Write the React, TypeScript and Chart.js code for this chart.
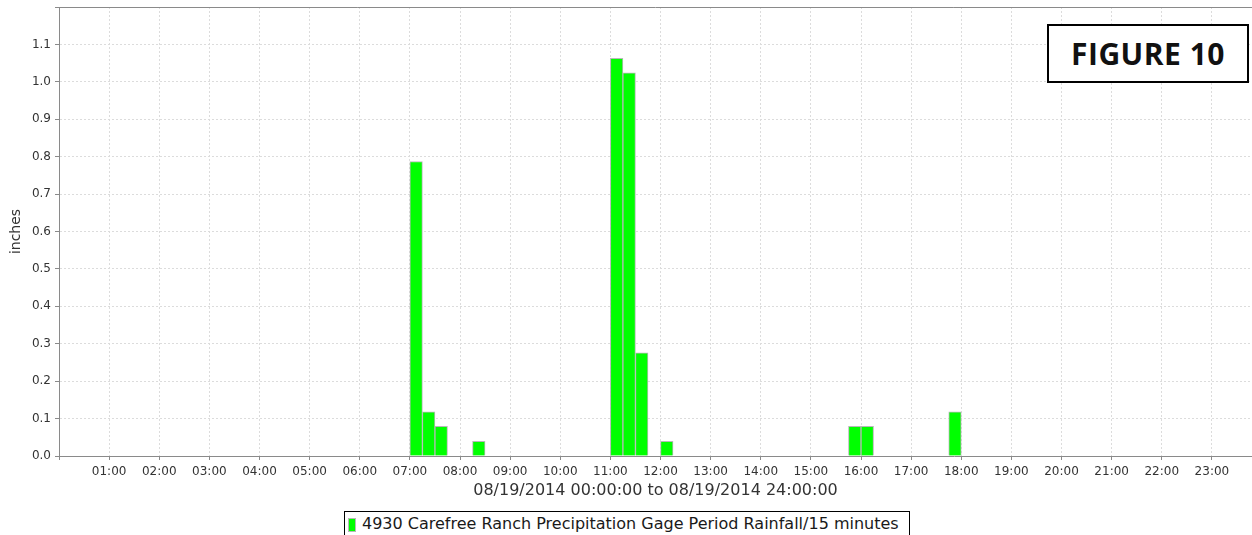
import React, { useEffect, useRef } from 'react';
import { Chart, registerables } from 'chart.js';

Chart.register(...registerables);

// ---- data ----
const periodStarts = ['07:00', '07:15', '07:30', '08:15', '11:00', '11:15', '11:30', '12:00', '15:45', '16:00', '17:45'];
const rainfallInches = [0.787, 0.118, 0.079, 0.039, 1.063, 1.024, 0.276, 0.039, 0.079, 0.079, 0.118];
const periodMinutes = 15;
const seriesLabel = '4930 Carefree Ranch Precipitation Gage Period Rainfall/15 minutes';
const xAxisTitle = '08/19/2014 00:00:00 to 08/19/2014 24:00:00';
const yAxisTitle = 'inches';
const figureLabel = 'FIGURE 10';
const xMinMinutes = 0;
const xMaxMinutes = 1428;
const yMax = 1.2;

const toMinutes = (t: string) => {
  const [h, m] = t.split(':').map(Number);
  return h * 60 + m;
};

const FONT = '"DejaVu Sans", sans-serif';

const plotFrame = {
  id: 'plotFrame',
  afterDraw(chart: any) {
    const { ctx, chartArea } = chart;
    ctx.save();
    ctx.strokeStyle = '#8a8a8a';
    ctx.lineWidth = 1;
    ctx.beginPath();
    ctx.moveTo(chartArea.left, chartArea.top + 0.5);
    ctx.lineTo(chartArea.right, chartArea.top + 0.5);
    ctx.stroke();
    ctx.restore();
  },
};

export default function App() {
  const canvasRef = useRef<HTMLCanvasElement>(null);

  useEffect(() => {
    if (!canvasRef.current) return;
    const points = periodStarts.map((t, i) => ({
      x: toMinutes(t) + periodMinutes / 2,
      y: rainfallInches[i],
    }));
    const chart = new Chart(canvasRef.current, {
      type: 'bar',
      data: {
        datasets: [
          {
            label: seriesLabel,
            data: points as any,
            backgroundColor: '#00ff00',
            borderColor: '#b8b8b8',
            borderWidth: 1,
            barPercentage: 1,
            categoryPercentage: 1,
          },
        ],
      },
      options: {
        animation: false,
        responsive: true,
        maintainAspectRatio: false,
        layout: { padding: { top: 7, left: 0, right: 0, bottom: 0 } },
        plugins: {
          legend: { display: false },
          tooltip: { enabled: false },
        },
        scales: {
          x: {
            type: 'linear',
            min: xMinMinutes,
            max: xMaxMinutes,
            offset: false,
            afterFit: (s: any) => {
              s.height = 45;
              s.paddingLeft = 0;
              s.paddingRight = 0;
            },
            grid: {
              offset: false,
              color: '#dcdcdc',
              lineWidth: 1,
              tickLength: 4,
              tickColor: '#8a8a8a',
              tickBorderDash: [],
            },
            border: { display: true, color: '#8a8a8a', width: 1, dash: [2, 2] },
            ticks: {
              stepSize: 60,
              includeBounds: false,
              autoSkip: false,
              maxRotation: 0,
              padding: 5,
              color: '#333',
              font: { family: FONT, size: 12 },
              callback: (v: any) => {
                const n = Number(v);
                if (n <= 0 || n % 60 !== 0) return '';
                return String(n / 60).padStart(2, '0') + ':00';
              },
            },
            title: {
              display: true,
              text: xAxisTitle,
              color: '#333',
              font: { family: FONT, size: 16 },
              padding: { top: 0, bottom: 1 },
            },
          },
          y: {
            type: 'linear',
            min: 0,
            max: yMax,
            afterFit: (s: any) => {
              s.width = 59;
              s.paddingTop = 0;
              s.paddingBottom = 0;
            },
            grid: {
              color: '#dcdcdc',
              lineWidth: 1,
              tickLength: 4,
              tickColor: '#8a8a8a',
              tickBorderDash: [],
            },
            border: { display: true, color: '#8a8a8a', width: 1, dash: [2, 2] },
            ticks: {
              stepSize: 0.1,
              includeBounds: false,
              padding: 4,
              color: '#333',
              font: { family: FONT, size: 12 },
              callback: (v: any) => {
                const n = Number(v);
                if (n > 1.15) return '';
                return n.toFixed(1);
              },
            },
            title: {
              display: true,
              text: yAxisTitle,
              color: '#333',
              font: { family: FONT, size: 14 },
              padding: { top: 8, bottom: 0 },
            },
          },
        },
      },
      plugins: [plotFrame],
    });
    return () => chart.destroy();
  }, []);

  return (
    <div style={{ position: 'absolute', left: 0, top: 0, width: 1252, height: 535, overflow: 'hidden', background: '#fff' }}>
      <div style={{ position: 'absolute', left: 0, top: 0, width: 1252, height: 501 }}>
        <canvas ref={canvasRef} />
      </div>
      <div
        style={{
          position: 'absolute',
          left: 1047,
          top: 24,
          width: 202,
          height: 59,
          boxSizing: 'border-box',
          border: '2px solid #000',
          background: '#fff',
          display: 'flex',
          alignItems: 'center',
          justifyContent: 'center',
          fontFamily: '"Open Sans", sans-serif',
          fontWeight: 'bold',
          fontSize: 30,
          letterSpacing: 0.5,
          color: '#111',
        }}
      >
        {figureLabel}
      </div>
      <div
        style={{
          position: 'absolute',
          left: 344,
          top: 511,
          width: 566,
          height: 34,
          boxSizing: 'border-box',
          border: '1px solid #000',
          background: '#fff',
          display: 'flex',
          alignItems: 'flex-start',
          paddingLeft: 3,
          paddingTop: 2,
          fontFamily: FONT,
          fontSize: 16,
          color: '#1a1a1a',
          whiteSpace: 'nowrap',
        }}
      >
        <span
          style={{
            display: 'inline-block',
            width: 8,
            height: 14,
            marginTop: 4,
            marginRight: 6,
            background: '#00ff00',
            border: '1px solid #b8b8b8',
            boxSizing: 'border-box',
          }}
        />
        <span>{seriesLabel}</span>
      </div>
    </div>
  );
}
